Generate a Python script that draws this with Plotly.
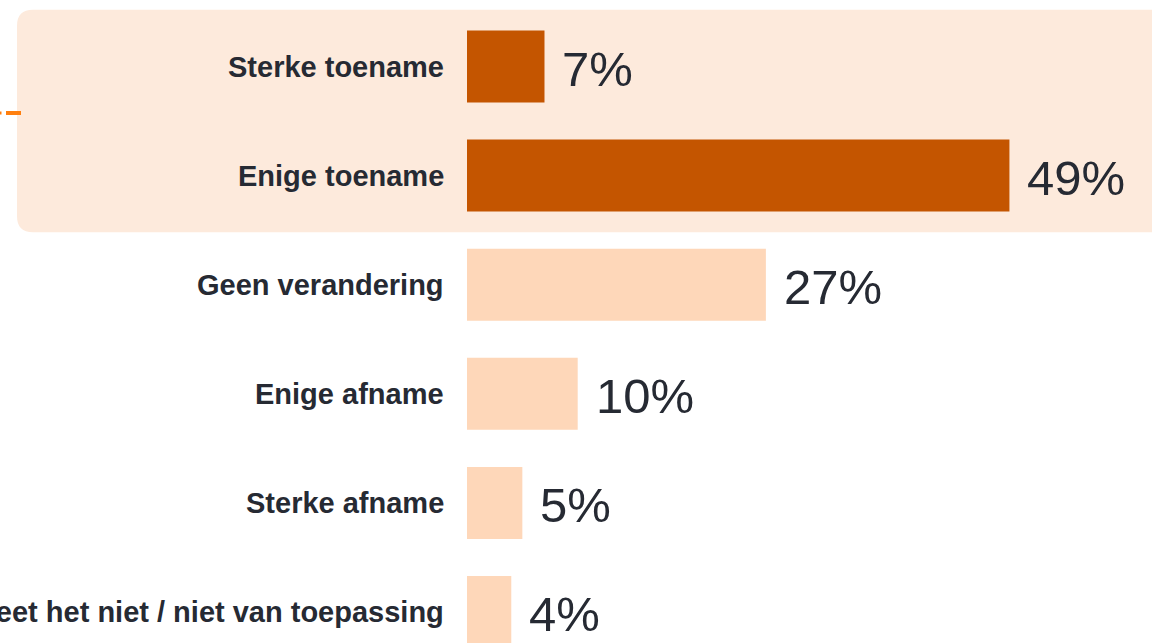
import plotly.graph_objects as go

# Survey answers and their shares (percent)
categories = [
    "Sterke toename",
    "Enige toename",
    "Geen verandering",
    "Enige afname",
    "Sterke afname",
    "Weet het niet / niet van toepassing",
]
values = [7, 49, 27, 10, 5, 4]
highlighted = [True, True, False, False, False, False]

DARK = "#C45500"
LIGHT = "#FED7B9"
BOX = "#FDEADC"
TEXT = "#262A33"

W, H = 1152, 643
ROW_PX = 109.1          # vertical pitch of one row in pixels
TOP_PX = 66.5           # centre of first row in pixels
ZERO_PX = 467           # x pixel of the 0% baseline
PX_PER_PCT = 11.07

y_top = -TOP_PX / ROW_PX
y_bot = y_top + H / ROW_PX
x_lo = -ZERO_PX / PX_PER_PCT
x_hi = (W - ZERO_PX) / PX_PER_PCT

idx = list(range(len(categories)))
colors = [DARK if h else LIGHT for h in highlighted]

fig = go.Figure(
    go.Bar(
        x=values,
        y=idx,
        orientation="h",
        width=0.66,
        marker=dict(color=colors, line=dict(width=0)),
        hoverinfo="skip",
    )
)

# Rounded highlight panel behind the highlighted rows
hi_rows = [i for i, h in enumerate(highlighted) if h]
pad = 0.52
by0 = min(hi_rows) - pad
by1 = max(hi_rows) + pad
bx0 = 17 / W
bx1 = 1.05
rx = 16 / W
ry = 16 / ROW_PX
path = (
    f"M {bx0 + rx},{by0} L {bx1},{by0} L {bx1},{by1} L {bx0 + rx},{by1} "
    f"Q {bx0},{by1} {bx0},{by1 - ry} L {bx0},{by0 + ry} "
    f"Q {bx0},{by0} {bx0 + rx},{by0} Z"
)
fig.add_shape(type="path", path=path, xref="paper", yref="y",
              fillcolor=BOX, line=dict(width=0), layer="below")

# Connector tick on the left of the panel
tick_y = 1 - 113 / H
fig.add_shape(type="line", xref="paper", yref="paper",
              x0=6 / W, x1=21 / W, y0=tick_y, y1=tick_y,
              line=dict(color="#FF7F0E", width=4))
fig.add_shape(type="line", xref="paper", yref="paper",
              x0=0, x1=1.5 / W, y0=tick_y, y1=tick_y,
              line=dict(color="#FF7F0E", width=3))

annotations = []
for i, (cat, v) in enumerate(zip(categories, values)):
    annotations.append(dict(
        x=0, y=i, xref="x", yref="y", text=f"<b>{cat}</b>",
        xanchor="right", yanchor="middle", xshift=-21, showarrow=False,
        font=dict(family="Liberation Sans, Arial, sans-serif", size=29, color=TEXT),
    ))
    annotations.append(dict(
        x=v, y=i, xref="x", yref="y", text=f"{v}%",
        xanchor="left", yanchor="middle", xshift=16, yshift=-2, showarrow=False,
        font=dict(family="Liberation Sans, Arial, sans-serif", size=49, color=TEXT),
    ))

fig.update_layout(
    width=W, height=H,
    margin=dict(l=0, r=0, t=0, b=0),
    paper_bgcolor="white",
    plot_bgcolor="rgba(0,0,0,0)",
    showlegend=False,
    annotations=annotations,
    xaxis=dict(range=[x_lo, x_hi], visible=False, fixedrange=True),
    yaxis=dict(range=[y_bot, y_top], visible=False, fixedrange=True),
)

fig.write_html("out.html", config={"displayModeBar": False})
